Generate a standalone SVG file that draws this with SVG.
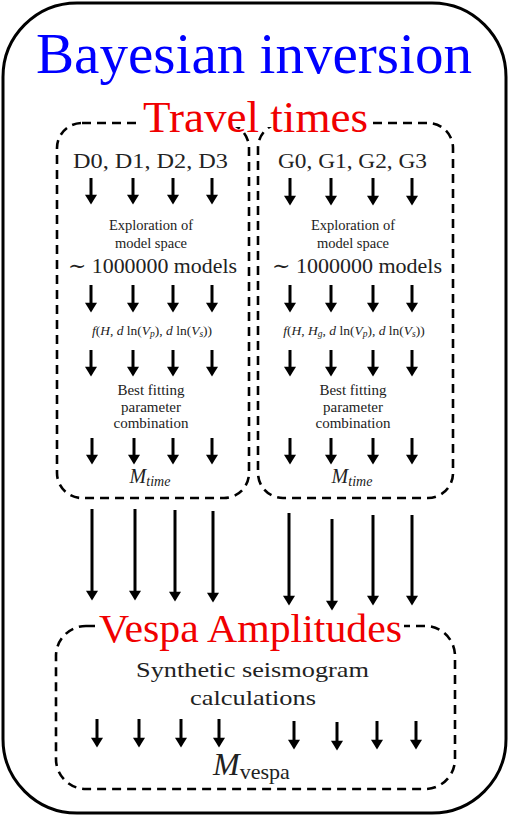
<svg xmlns="http://www.w3.org/2000/svg" width="512" height="816" viewBox="0 0 512 816">
<style>
text{font-family:"Liberation Serif","DejaVu Serif",serif;fill:#222}
.dash{fill:none;stroke:#000;stroke-width:2.6;stroke-dasharray:9 6}
.arr line{stroke:#000;stroke-width:3;marker-end:url(#ah)}
.sm{font-size:14.5px}
.fm{font-size:13.5px}
.md{font-size:15px}
.it{font-style:italic}
.red{fill:#f00000}
</style>
<defs>
<marker id="ah" markerUnits="userSpaceOnUse" markerWidth="12" markerHeight="12" viewBox="0 0 10 11" refX="3" refY="5.5" orient="auto">
<path d="M0,0 L9,5.5 L0,11 z" fill="#000"/>
</marker>
</defs>
<rect width="512" height="816" fill="#fff"/>
<g id="outer">
<rect x="3" y="3" width="503" height="810" rx="74" fill="none" stroke="#000" stroke-width="3"/>
<text x="36" y="73" font-size="56" style="fill:#0000ff" textLength="436" lengthAdjust="spacingAndGlyphs">Bayesian inversion</text>
</g>
<g id="box-d">
<rect class="dash" x="57" y="123" width="192" height="375" rx="25"/>
<text x="73" y="168" font-size="20" textLength="155" lengthAdjust="spacingAndGlyphs">D0, D1, D2, D3</text>
<text class="sm" x="151" y="230" text-anchor="middle">Exploration of</text>
<text class="sm" x="151" y="248" text-anchor="middle">model space</text>
<text x="68" y="273" font-size="21" textLength="169" lengthAdjust="spacingAndGlyphs">∼ 1000000 models</text>
<text class="fm" x="152" y="335" text-anchor="middle"><tspan class="it">f</tspan>(<tspan class="it">H</tspan>, <tspan class="it">d</tspan> ln(<tspan class="it">V</tspan><tspan class="it" font-size="9.5" dy="2">p</tspan><tspan dy="-2">), </tspan><tspan class="it">d</tspan> ln(<tspan class="it">V</tspan><tspan class="it" font-size="9.5" dy="2">s</tspan><tspan dy="-2">))</tspan></text>
<text class="md" x="151" y="395" text-anchor="middle">Best fitting</text>
<text class="md" x="151" y="412" text-anchor="middle">parameter</text>
<text class="md" x="151" y="428" text-anchor="middle">combination</text>
<text x="150" y="483" text-anchor="middle" class="it"><tspan font-size="20">M</tspan><tspan font-size="14" dy="3">time</tspan></text>
</g>
<g id="box-g">
<rect class="dash" x="258" y="123" width="195" height="375" rx="25"/>
<text x="278" y="168" font-size="20" textLength="149" lengthAdjust="spacingAndGlyphs">G0, G1, G2, G3</text>
<text class="sm" x="353" y="230" text-anchor="middle">Exploration of</text>
<text class="sm" x="353" y="248" text-anchor="middle">model space</text>
<text x="272" y="273" font-size="21" textLength="170" lengthAdjust="spacingAndGlyphs">∼ 1000000 models</text>
<text class="fm" x="354" y="335" text-anchor="middle"><tspan class="it">f</tspan>(<tspan class="it">H</tspan>, <tspan class="it">H</tspan><tspan class="it" font-size="9.5" dy="2">g</tspan><tspan dy="-2">, </tspan><tspan class="it">d</tspan> ln(<tspan class="it">V</tspan><tspan class="it" font-size="9.5" dy="2">p</tspan><tspan dy="-2">), </tspan><tspan class="it">d</tspan> ln(<tspan class="it">V</tspan><tspan class="it" font-size="9.5" dy="2">s</tspan><tspan dy="-2">))</tspan></text>
<text class="md" x="353" y="395" text-anchor="middle">Best fitting</text>
<text class="md" x="353" y="412" text-anchor="middle">parameter</text>
<text class="md" x="353" y="428" text-anchor="middle">combination</text>
<text x="352" y="483" text-anchor="middle" class="it"><tspan font-size="20">M</tspan><tspan font-size="14" dy="3">time</tspan></text>
</g>
<g id="travel-label">
<rect x="141" y="100" width="229" height="27" fill="#fff"/>
<text class="red" x="143" y="132" font-size="44" textLength="225" lengthAdjust="spacingAndGlyphs">Travel times</text>
</g>
<g id="box-vespa">
<rect class="dash" x="56" y="626" width="399" height="163" rx="30"/>
<rect x="97" y="610" width="307" height="28" fill="#fff"/>
<text class="red" x="99" y="642" font-size="40" textLength="303" lengthAdjust="spacingAndGlyphs">Vespa Amplitudes</text>
<text x="136" y="677" font-size="22" textLength="233" lengthAdjust="spacingAndGlyphs">Synthetic seismogram</text>
<text x="190" y="705" font-size="22" textLength="126" lengthAdjust="spacingAndGlyphs">calculations</text>
<text x="213" y="775"><tspan class="it" font-size="32">M</tspan><tspan font-size="22" dy="4">vespa</tspan></text>
</g>
<g id="connectors" class="arr">
<line x1="91" y1="178" x2="91" y2="198"/><line x1="133" y1="178" x2="133" y2="198"/><line x1="173" y1="178" x2="173" y2="198"/><line x1="212" y1="178" x2="212" y2="198"/>
<line x1="290" y1="178" x2="290" y2="199"/><line x1="331" y1="178" x2="331" y2="199"/><line x1="373" y1="178" x2="373" y2="199"/><line x1="412" y1="178" x2="412" y2="199"/>
<line x1="91" y1="285" x2="91" y2="306"/><line x1="133" y1="285" x2="133" y2="306"/><line x1="173" y1="285" x2="173" y2="306"/><line x1="212" y1="285" x2="212" y2="306"/>
<line x1="290" y1="285" x2="290" y2="306"/><line x1="331" y1="285" x2="331" y2="306"/><line x1="373" y1="285" x2="373" y2="306"/><line x1="412" y1="285" x2="412" y2="306"/>
<line x1="91" y1="350" x2="91" y2="370"/><line x1="133" y1="350" x2="133" y2="370"/><line x1="173" y1="350" x2="173" y2="370"/><line x1="212" y1="350" x2="212" y2="370"/>
<line x1="290" y1="350" x2="290" y2="370"/><line x1="331" y1="350" x2="331" y2="370"/><line x1="373" y1="350" x2="373" y2="370"/><line x1="412" y1="350" x2="412" y2="370"/>
<line x1="92" y1="438" x2="92" y2="458"/><line x1="134" y1="438" x2="134" y2="458"/><line x1="173" y1="438" x2="173" y2="458"/><line x1="212" y1="438" x2="212" y2="458"/>
<line x1="290" y1="438" x2="290" y2="458"/><line x1="331" y1="438" x2="331" y2="458"/><line x1="373" y1="438" x2="373" y2="458"/><line x1="412" y1="438" x2="412" y2="458"/>
<line x1="92" y1="509" x2="92" y2="594"/><line x1="135" y1="509" x2="135" y2="594"/><line x1="175" y1="510" x2="175" y2="595"/><line x1="213" y1="511" x2="213" y2="596"/>
<line x1="289" y1="513" x2="289" y2="599"/><line x1="332" y1="519" x2="332" y2="604"/><line x1="373" y1="515" x2="373" y2="599"/><line x1="412" y1="515" x2="412" y2="599"/>
<line x1="97" y1="719" x2="97" y2="741"/><line x1="139" y1="719" x2="139" y2="741"/><line x1="181" y1="719" x2="181" y2="741"/><line x1="219" y1="719" x2="219" y2="741"/>
<line x1="294" y1="721" x2="294" y2="743"/><line x1="337" y1="722" x2="337" y2="744"/><line x1="377" y1="721" x2="377" y2="743"/><line x1="416" y1="721" x2="416" y2="743"/>
</g>
</svg>
